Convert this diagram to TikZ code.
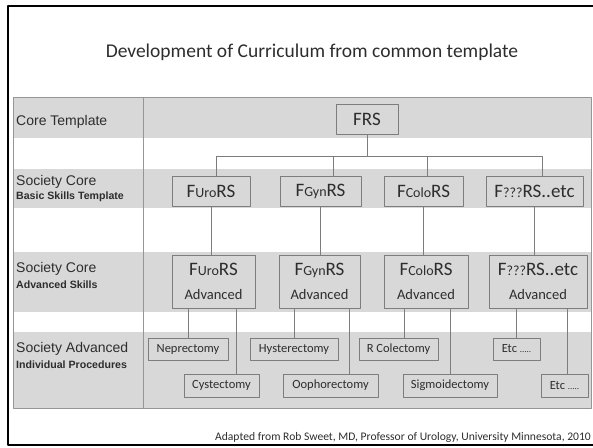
\documentclass[tikz,border=0pt]{standalone}
\usepackage{fontspec}
\setmainfont{Carlito}
\newfontfamily\rowfont{Liberation Sans}
\definecolor{bandgray}{RGB}{216,216,216}
\definecolor{boxline}{RGB}{125,125,125}
\definecolor{rule}{RGB}{150,150,150}
\definecolor{ink}{RGB}{45,45,45}
% smaller society letters inside the box names
\newcommand{\socpart}[1]{{\fontsize{14}{14}\selectfont #1}}
\begin{document}
\begin{tikzpicture}[x=1pt,y=-1pt,line join=round,
	skill/.style={draw=boxline,fill=bandgray,inner sep=0pt,text=ink,align=center},
	core/.style={skill,minimum height=30,font=\fontsize{19}{21}\selectfont},
	adv/.style={skill,minimum height=53,font=\fontsize{19}{24}\selectfont},
	proc/.style={skill,font=\fontsize{12.5}{14}\selectfont},
	rowlabel/.style={anchor=west,inner sep=0pt,text=ink,font=\rowfont\fontsize{14}{16}\selectfont},
	rowsub/.style={anchor=west,inner sep=0pt,text=ink,font=\rowfont\bfseries\fontsize{10.6}{12}\selectfont},
	link/.style={draw=boxline,line width=.8pt}]
	\useasboundingbox (0,0) rectangle (593,447);
	% Khung ngoài
	\draw[line width=2.6pt] (593,6) -- (8,6) -- (8,445) -- (593,445);
	\node[font=\fontsize{19.5}{22}\selectfont,text=ink] (title) at (312,52) {Development of Curriculum from common template};
	% Dải xám của bảng
	\fill[bandgray] (13,97) rectangle (591,138);
	\fill[bandgray] (13,169) rectangle (591,208);
	\fill[bandgray] (13,252) rectangle (591,312);
	\fill[bandgray] (13,332) rectangle (591,408);
	\draw[rule,line width=.9pt] (13,97) rectangle (591,408);
	\draw[rule,line width=.9pt] (143,97) -- (143,408);
	% Cột tiêu đề
	\node[rowlabel] (lcore) at (16,122) {Core Template};
	\node[rowlabel] (lbasic) at (16,182) {Society Core};
	\node[rowsub] (lbasicsub) at (16,197) {Basic Skills Template};
	\node[rowlabel] (ladv) at (16,269) {Society Core};
	\node[rowsub] (ladvsub) at (16,284.5) {Advanced Skills};
	\node[rowlabel] (lproc) at (16,349) {Society Advanced};
	\node[rowsub] (lprocsub) at (16,365) {Individual Procedures};
	% Hàng 1
	\node[core,minimum width=62] (frs) at (367,119.5) {FRS};
	% Hàng 2
	\node[core,minimum width=78] (uro) at (211,191) {F\socpart{Uro}RS};
	\node[core,minimum width=81] (gyn) at (320.5,191) {F\socpart{Gyn}RS};
	\node[core,minimum width=79] (colo) at (423.5,191) {F\socpart{Colo}RS};
	\node[core,minimum width=97] (other) at (534.5,191) {F\socpart{???}RS..etc};
	\coordinate (bus) at (0,156);
	\draw[link] (frs.south) -- (frs.south |- bus);
	\draw[link] ([xshift=5pt]uro.north) |- ([xshift=7.5pt]other.north |- bus) -- ([xshift=7.5pt]other.north);
	\draw[link] ([xshift=12.5pt]gyn.north) -- ([xshift=12.5pt]gyn.north |- bus);
	\draw[link] ([xshift=3.5pt]colo.north) -- ([xshift=3.5pt]colo.north |- bus);
	% Hàng 3
	\node[adv,minimum width=83] (uroA) at (213.5,281.5) {F\socpart{Uro}RS\\{\fontsize{14.5}{24}\selectfont Advanced}};
	\node[adv,minimum width=81] (gynA) at (319.5,281.5) {F\socpart{Gyn}RS\\{\fontsize{14.5}{24}\selectfont Advanced}};
	\node[adv,minimum width=84] (coloA) at (426,281.5) {F\socpart{Colo}RS\\{\fontsize{14.5}{24}\selectfont Advanced}};
	\node[adv,minimum width=98] (otherA) at (538,281.5) {F\socpart{???}RS..etc\\{\fontsize{14.5}{24}\selectfont Advanced}};
	\foreach \a in {uro,gyn,colo,other}
		\draw[link] (\a.south) -- (\a.south |- \a A.north);
	% Hàng 4
	\node[proc,minimum width=80,minimum height=22] (nep) at (188,349) {Neprectomy};
	\node[proc,minimum width=75,minimum height=23] (cys) at (221.5,385.5) {Cystectomy};
	\node[proc,minimum width=88,minimum height=22] (hys) at (294,349) {Hysterectomy};
	\node[proc,minimum width=95,minimum height=23] (oop) at (330.5,385.5) {Oophorectomy};
	\node[proc,minimum width=79,minimum height=22] (rcol) at (398.5,349) {R Colectomy};
	\node[proc,minimum width=94,minimum height=23] (sig) at (450,385.5) {Sigmoidectomy};
	\node[proc,minimum width=47,minimum height=22] (etcA) at (516.5,349) {Etc {\fontsize{9}{10}\selectfont .....}};
	\node[proc,minimum width=47,minimum height=23] (etcB) at (564.5,385.5) {Etc {\fontsize{9}{10}\selectfont .....}};
	\foreach \p/\s/\d in {nep/uroA/0,cys/uroA/14.5,hys/gynA/0,oop/gynA/18.5,rcol/coloA/5.5,sig/coloA/0,etcA/otherA/0,etcB/otherA/2.5}
		\draw[link] ([xshift=\d pt]\p.north) -- ([xshift=\d pt]\p.north |- \s.south);
	% Nguồn
	\node[anchor=east,inner sep=0pt,text=ink,font=\fontsize{11.6}{13}\selectfont] (source) at (591,437) {Adapted from Rob Sweet, MD, Professor of Urology, University Minnesota, 2010};
\end{tikzpicture}
\end{document}
